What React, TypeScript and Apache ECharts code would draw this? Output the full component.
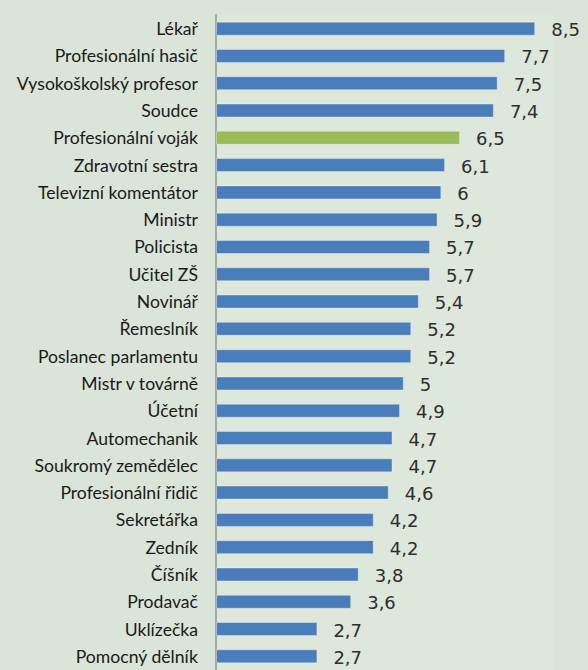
import React, { useEffect, useRef } from "react";
import * as echarts from "echarts";

const categories: string[] = [
  "Lékař",
  "Profesionální hasič",
  "Vysokoškolský profesor",
  "Soudce",
  "Profesionální voják",
  "Zdravotní sestra",
  "Televizní komentátor",
  "Ministr",
  "Policista",
  "Učitel ZŠ",
  "Novinář",
  "Řemeslník",
  "Poslanec parlamentu",
  "Mistr v továrně",
  "Účetní",
  "Automechanik",
  "Soukromý zemědělec",
  "Profesionální řidič",
  "Sekretářka",
  "Zedník",
  "Číšník",
  "Prodavač",
  "Uklízečka",
  "Pomocný dělník",
];

const values: number[] = [
  8.5, 7.7, 7.5, 7.4, 6.5, 6.1, 6, 5.9, 5.7, 5.7, 5.4, 5.2, 5.2, 5, 4.9, 4.7,
  4.7, 4.6, 4.2, 4.2, 3.8, 3.6, 2.7, 2.7,
];

const highlighted: string = "Profesionální voják";

export default function App() {
  const ref = useRef<HTMLDivElement>(null);

  useEffect(() => {
    if (!ref.current) return;
    const chart = echarts.init(ref.current, undefined, { renderer: "svg" });
    chart.setOption({
      animation: false,
      backgroundColor: "#dae4d8",
      grid: {
        left: 216,
        top: 15,
        right: 34,
        bottom: -4,
        containLabel: false,
        show: true,
        backgroundColor: "#dde7db",
        borderWidth: 0,
      },
      xAxis: {
        type: "value",
        min: 0,
        max: 9,
        show: false,
      },
      yAxis: {
        type: "category",
        data: categories,
        inverse: true,
        axisTick: { show: false },
        axisLine: { show: true, lineStyle: { color: "#a3aba2", width: 2 } },
        axisLabel: {
          margin: 18,
          color: "#1a1a1a",
          fontFamily: "Lato",
          fontSize: 17.6,
        },
        splitLine: { show: false },
      },
      series: [
        {
          type: "bar",
          barWidth: 14,
          data: values.map((v, i) => ({
            value: v,
            itemStyle: {
              color: categories[i] === highlighted ? "#9bbb59" : "#4a7ebb",
            },
          })),
          itemStyle: {
            borderColor: "rgba(255,255,255,0.35)",
            borderWidth: 1,
          },
          label: {
            show: true,
            position: "right",
            distance: 16,
            offset: [0, 1],
            color: "#2e2e2e",
            fontFamily: "DejaVu Sans",
            fontSize: 18,
            formatter: (p: any) => String(p.value).replace(".", ","),
          },
        },
      ],
    });
    return () => chart.dispose();
  }, []);

  return (
    <div
      ref={ref}
      style={{ position: "fixed", left: 0, top: 0, width: 588, height: 670 }}
    />
  );
}
